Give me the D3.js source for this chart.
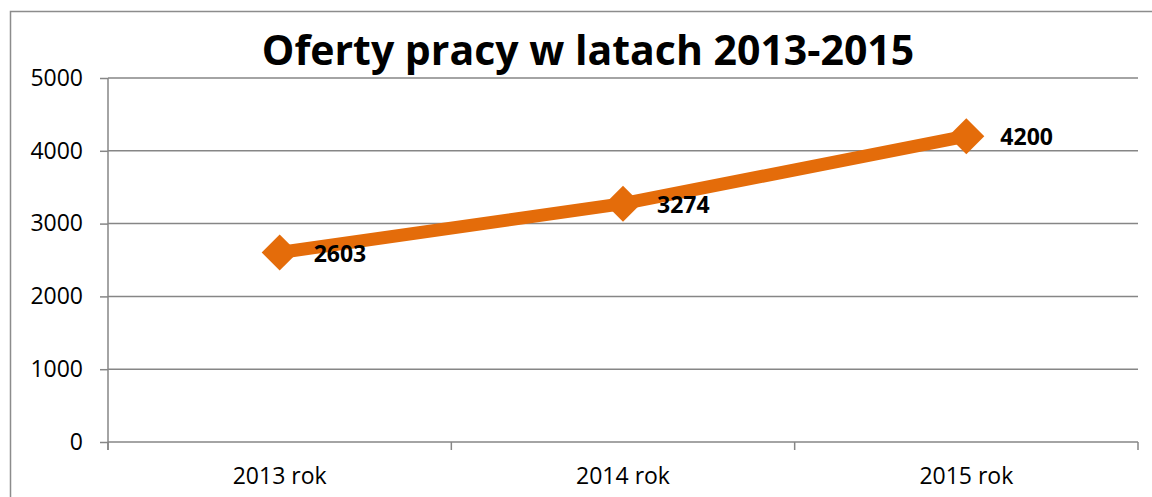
<!DOCTYPE html>
<html>
<head>
<meta charset="utf-8">
<script src="https://cdn.jsdelivr.net/npm/d3@7"></script>
<style>
  body { margin: 0; background: #fff; }
  svg { display: block; font-family: "Open Sans", "Noto Sans", sans-serif; }
</style>
</head>
<body>
<div id="chart"></div>
<script>
// chart data
const title = "Oferty pracy w latach 2013-2015";
const categories = ["2013 rok", "2014 rok", "2015 rok"];
const values = [2603, 3274, 4200];
const yTicks = [0, 1000, 2000, 3000, 4000, 5000];

const W = 1152, H = 497;
const margin = { top: 78, right: 14, bottom: 55, left: 108 };

const svg = d3.select("#chart")
    .append("svg")
    .attr("width", W)
    .attr("height", H);

// outer chart frame (runs off the right/bottom of the picture)
svg.append("rect")
    .attr("x", 10.5).attr("y", 11.5)
    .attr("width", 1160).attr("height", 500)
    .attr("fill", "none")
    .attr("stroke", "#8c8c8c")
    .attr("stroke-width", 1.5);

let x = d3.scaleBand()
    .domain(categories)
    .range([margin.left, W - margin.right])
    .padding(0);

let y = d3.scaleLinear()
    .domain([0, 5000])
    .range([H - margin.bottom, margin.top]);

const grey = "#868686";

// gridlines
svg.append("g")
    .selectAll("line")
    .data(yTicks.filter(d => d > 0))
    .join("line")
    .attr("x1", margin.left)
    .attr("x2", W - margin.right)
    .attr("y1", d => y(d))
    .attr("y2", d => y(d))
    .attr("stroke", grey)
    .attr("stroke-width", 1.5);

// y axis
svg.append("g")
    .attr("transform", `translate(${margin.left},0)`)
    .call(d3.axisLeft(y).tickValues(yTicks).tickSize(8).tickPadding(17).tickFormat(d3.format("d")))
    .call(g => g.selectAll("line").attr("stroke", grey).attr("stroke-width", 1.5))
    .call(g => g.select(".domain").attr("stroke", grey).attr("stroke-width", 1.5).attr("d", `M0,${margin.top}V${H - margin.bottom + 8}`))
    .call(g => g.selectAll("text").attr("font-size", 23).attr("fill", "#000").attr("font-family", "Open Sans"));

// x axis: ticks sit between categories
const bounds = categories.map(c => x(c)).concat([x.range()[1]]);
const xg = svg.append("g");
xg.append("line")
    .attr("x1", margin.left).attr("x2", W - margin.right)
    .attr("y1", y(0)).attr("y2", y(0))
    .attr("stroke", grey).attr("stroke-width", 1.5);
xg.selectAll(".tk")
    .data(bounds)
    .join("line")
    .attr("class", "tk")
    .attr("x1", d => d).attr("x2", d => d)
    .attr("y1", y(0)).attr("y2", y(0) + 8)
    .attr("stroke", grey).attr("stroke-width", 1.5);
xg.selectAll("text")
    .data(categories)
    .join("text")
    .attr("x", d => x(d) + x.bandwidth() / 2)
    .attr("y", y(0) + 42)
    .attr("text-anchor", "middle")
    .attr("font-size", 23)
    .text(d => d);

// line series
const pts = categories.map((c, i) => ({ cat: c, v: values[i] }));
const cx = d => x(d.cat) + x.bandwidth() / 2;

svg.append("path")
    .datum(pts)
    .attr("fill", "none")
    .attr("stroke", "#e46c0a")
    .attr("stroke-width", 13)
    .attr("d", d3.line().x(cx).y(d => y(d.v)));

svg.append("g")
    .selectAll("path")
    .data(pts)
    .join("path")
    .attr("transform", d => `translate(${cx(d)},${y(d.v)})`)
    .attr("d", "M-18,0L0,-18L18,0L0,18Z")
    .attr("fill", "#e46c0a");

// data labels
svg.append("g")
    .selectAll("text")
    .data(pts)
    .join("text")
    .attr("x", d => cx(d) + 34)
    .attr("y", d => y(d.v) + 9)
    .attr("font-size", 23)
    .attr("font-weight", "bold")
    .text(d => d.v);

// title
svg.append("text")
    .attr("x", 588)
    .attr("y", 65)
    .attr("text-anchor", "middle")
    .attr("font-size", 41)
    .attr("font-weight", "bold")
    .text(title);
</script>
</body>
</html>
